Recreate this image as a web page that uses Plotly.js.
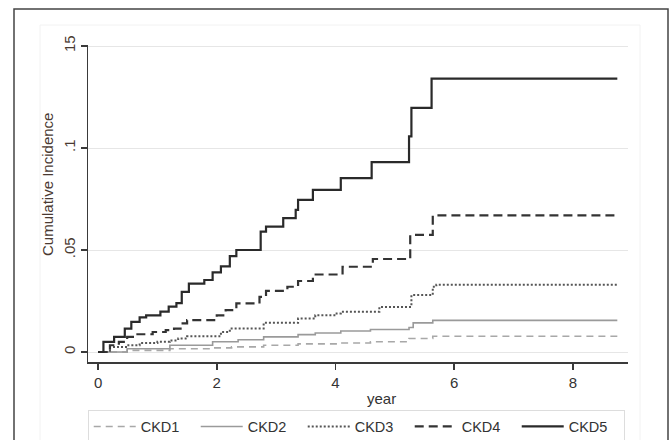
<!DOCTYPE html>
<html>
<head>
<meta charset="utf-8">
<script src="https://cdn.plot.ly/plotly-3.0.1.min.js"></script>
<style>html,body{margin:0;padding:0;background:#fff;}#chart{width:669px;height:440px;}</style>
</head>
<body>
<div id="chart"></div>
<script>
// Series names
const seriesNames = ["CKD1", "CKD2", "CKD3", "CKD4", "CKD5"];

// Step points (years, cumulative incidence)
const ckd1Years = [0, 0.49, 1.21, 1.93, 2.25, 2.79, 3.37, 4.09, 4.59, 5.24, 5.64, 8.75];
const ckd1Values = [0, 0.0008, 0.0016, 0.002, 0.0025, 0.0033, 0.004, 0.0044, 0.005, 0.0066, 0.0077, 0.0077];

const ckd2Years = [0, 0.49, 1.21, 1.93, 2.36, 2.79, 3.37, 3.66, 4.09, 4.59, 5.24, 5.31, 5.64, 8.75];
const ckd2Values = [0, 0.0016, 0.0033, 0.005, 0.006, 0.0074, 0.0085, 0.0093, 0.0103, 0.011, 0.012, 0.0143, 0.0155, 0.0155];

const ckd3Years = [0, 0.2, 0.49, 0.7, 1.0, 1.21, 1.35, 1.5, 2.07, 2.22, 2.79, 3.37, 3.66, 4.02, 4.09, 4.74, 5.28, 5.64, 5.7, 8.75];
const ckd3Values = [0, 0.0025, 0.0033, 0.0044, 0.005, 0.0057, 0.0066, 0.0077, 0.0098, 0.0115, 0.0143, 0.0164, 0.018, 0.0189, 0.0197, 0.0221, 0.0279, 0.032, 0.0330, 0.0330];

const ckd4Years = [0, 0.2, 0.35, 0.49, 0.63, 0.92, 1.14, 1.28, 1.39, 1.5, 2.0, 2.15, 2.33, 2.72, 2.83, 3.19, 3.37, 3.62, 4.12, 4.63, 5.26, 5.64, 8.75];
const ckd4Values = [0, 0.0033, 0.005, 0.0074, 0.0087, 0.0098, 0.0107, 0.0115, 0.014, 0.0156, 0.018, 0.0205, 0.0238, 0.027, 0.030, 0.032, 0.0348, 0.038, 0.0418, 0.0456, 0.0574, 0.0670, 0.0670];

const ckd5Years = [0, 0.09, 0.27, 0.45, 0.56, 0.70, 0.81, 1.05, 1.19, 1.32, 1.41, 1.53, 1.79, 1.93, 2.07, 2.22, 2.33, 2.74, 2.83, 3.12, 3.33, 3.37, 3.62, 4.09, 4.61, 5.24, 5.28, 5.62, 8.75];
const ckd5Values = [0, 0.005, 0.0074, 0.0115, 0.0148, 0.017, 0.018, 0.0198, 0.0222, 0.024, 0.0295, 0.0335, 0.0353, 0.039, 0.042, 0.047, 0.050, 0.059, 0.0615, 0.0656, 0.0697, 0.0746, 0.0795, 0.0852, 0.0931, 0.1057, 0.1197, 0.1340, 0.1340];

// Axis ticks
const xTickVals = [0, 2, 4, 6, 8];
const xTickText = ["0", "2", "4", "6", "8"];
const yTickVals = [0, 0.05, 0.1, 0.15];
const yTickText = ["0", ".05", ".1", "15"];

const allYears = [ckd1Years, ckd2Years, ckd3Years, ckd4Years, ckd5Years];
const allValues = [ckd1Values, ckd2Values, ckd3Values, ckd4Values, ckd5Values];
const styles = [
  {color: "#a8a8a8", width: 1.6, dash: "7px,5px"},
  {color: "#9a9a9a", width: 1.6, dash: "solid"},
  {color: "#555555", width: 2, dash: "2px,2px"},
  {color: "#333333", width: 2.2, dash: "9px,5px"},
  {color: "#2a2a2a", width: 2.2, dash: "solid"}
];

const traces = seriesNames.map((n, i) => ({
  type: "scatter", mode: "lines", name: n,
  x: allYears[i], y: allValues[i],
  line: Object.assign({shape: "hv"}, styles[i]),
  hoverinfo: "skip"
}));

const font = "Liberation Sans, Arial, sans-serif";
const layout = {
  width: 669, height: 440,
  margin: {l: 88, r: 41, t: 45, b: 78, autoexpand: false},
  paper_bgcolor: "#ffffff", plot_bgcolor: "#ffffff",
  showlegend: true,
  font: {family: font, color: "#333", size: 14},
  xaxis: {
    range: [-0.17, 8.93], tickvals: xTickVals, ticktext: xTickText,
    showgrid: false, zeroline: false,
    showline: true, linecolor: "#3a3a3a", linewidth: 1.5,
    ticks: "outside", ticklen: 6, tickcolor: "#3a3a3a", tickwidth: 1.5,
    tickfont: {family: font, size: 15, color: "#333"}
  },
  yaxis: {
    range: [-0.0049, 0.1505], tickvals: yTickVals, ticktext: yTickText,
    tickangle: -90,
    showgrid: true, gridcolor: "#e6e6e6", gridwidth: 1, zeroline: false,
    showline: true, linecolor: "#3a3a3a", linewidth: 1.5,
    ticks: "outside", ticklen: 6, tickcolor: "#3a3a3a", tickwidth: 1.5,
    tickfont: {family: font, size: 15, color: "#4a3a32"}
  },
  legend: {
    orientation: "h", x: -0.0005, xanchor: "left", y: -0.15, yanchor: "top",
    bordercolor: "#dddddd", borderwidth: 1, bgcolor: "#ffffff",
    font: {family: font, size: 14.5, color: "#333"},
    itemwidth: 42, entrywidth: 50, traceorder: "normal",
    itemclick: false
  },
  annotations: [
    {text: "Cumulative Incidence", xref: "paper", yref: "paper",
     x: (47 - 88) / 540, y: (362 - 185) / 317, textangle: -90, showarrow: false,
     xanchor: "center", yanchor: "middle",
     font: {family: font, size: 15, color: "#4a3a32"}},
    {text: "year", xref: "paper", yref: "paper",
     x: (381 - 88) / 540, y: (362 - 398) / 317, showarrow: false,
     xanchor: "center", yanchor: "middle",
     font: {family: font, size: 15, color: "#333"}}
  ],
  shapes: [
    {type: "rect", xref: "paper", yref: "paper",
     x0: (14 - 88) / 540, x1: (668 - 88) / 540, y0: (362 - 450) / 317, y1: (362 - 9) / 317,
     line: {color: "#444", width: 1.5}, fillcolor: "rgba(0,0,0,0)", layer: "below"},
    {type: "rect", xref: "paper", yref: "paper",
     x0: (40 - 88) / 540, x1: (640 - 88) / 540, y0: (362 - 450) / 317, y1: (362 - 25) / 317,
     line: {color: "#f2f2f2", width: 1}, fillcolor: "rgba(0,0,0,0)", layer: "below"}
  ]
};

Plotly.newPlot("chart", traces, layout, {staticPlot: true, displayModeBar: false});
</script>
</body>
</html>
